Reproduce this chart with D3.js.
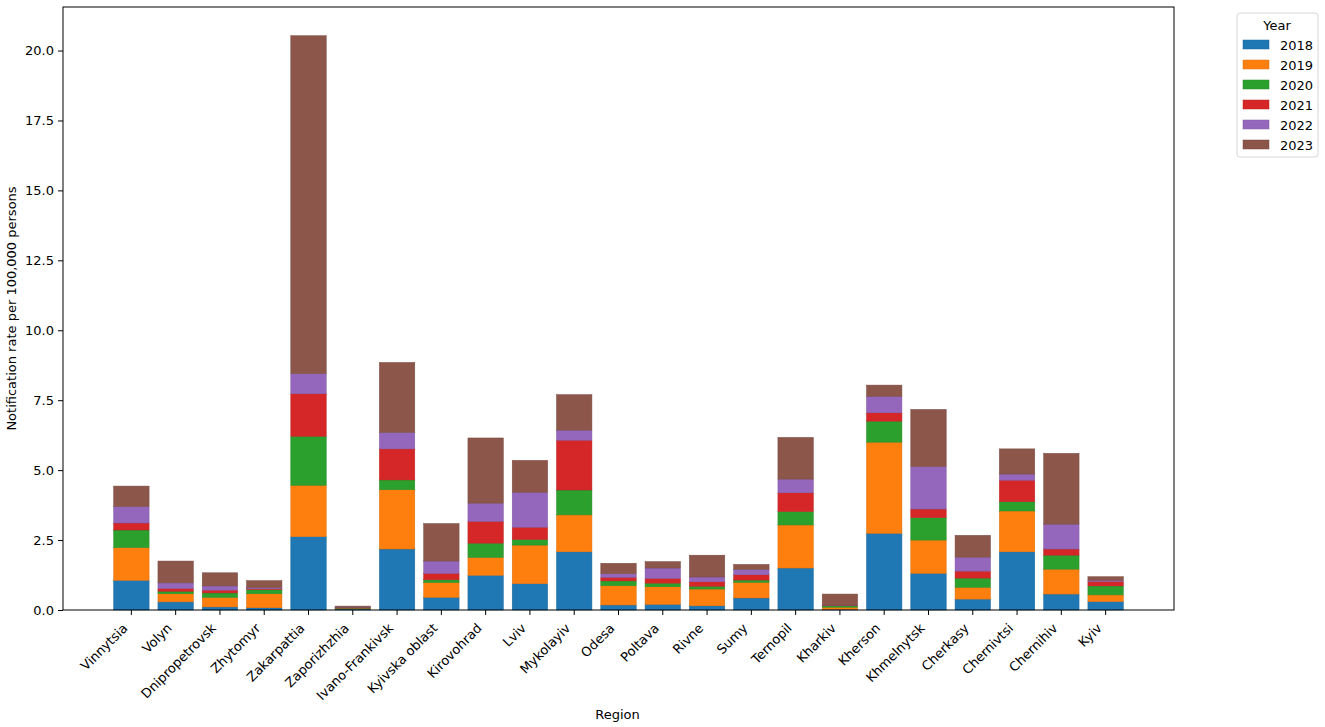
<!DOCTYPE html>
<html>
<head>
<meta charset="utf-8">
<script src="https://cdn.jsdelivr.net/npm/d3@7"></script>
<style>
  body { margin: 0; background: #fff; }
  svg { font-family: "DejaVu Sans", sans-serif; }
</style>
</head>
<body>
<svg width="1325" height="727"></svg>
<script>
const regions = ["Vinnytsia", "Volyn", "Dnipropetrovsk", "Zhytomyr", "Zakarpattia", "Zaporizhzhia",
  "Ivano-Frankivsk", "Kyivska oblast", "Kirovohrad", "Lviv", "Mykolayiv", "Odesa", "Poltava", "Rivne",
  "Sumy", "Ternopil", "Kharkiv", "Kherson", "Khmelnytsk", "Cherkasy", "Chernivtsi", "Chernihiv", "Kyiv"];
const years = ["2018", "2019", "2020", "2021", "2022", "2023"];
const colors = ["#1f77b4", "#ff7f0e", "#2ca02c", "#d62728", "#9467bd", "#8c564b"];

// notification rate per region, one array per year (same order as regions)
const rate2018 = [1.06, 0.29, 0.11, 0.08, 2.62, 0.04, 2.18, 0.45, 1.24, 0.94, 2.08, 0.18, 0.20, 0.15, 0.43, 1.50, 0.02, 2.74, 1.31, 0.39, 2.08, 0.57, 0.30];
const rate2019 = [1.17, 0.29, 0.34, 0.50, 1.84, 0.02, 2.12, 0.53, 0.64, 1.38, 1.32, 0.69, 0.63, 0.60, 0.56, 1.54, 0.08, 3.26, 1.19, 0.42, 1.46, 0.89, 0.24];
const rate2020 = [0.63, 0.09, 0.16, 0.15, 1.75, 0.01, 0.35, 0.10, 0.51, 0.20, 0.89, 0.17, 0.13, 0.10, 0.08, 0.48, 0.05, 0.75, 0.80, 0.33, 0.33, 0.50, 0.32];
const rate2021 = [0.25, 0.10, 0.10, 0.03, 1.52, 0.01, 1.11, 0.23, 0.78, 0.44, 1.78, 0.13, 0.17, 0.16, 0.19, 0.67, 0.01, 0.30, 0.31, 0.25, 0.77, 0.22, 0.16];
const rate2022 = [0.59, 0.20, 0.15, 0.04, 0.72, 0.01, 0.59, 0.44, 0.65, 1.25, 0.36, 0.13, 0.37, 0.17, 0.19, 0.49, 0.01, 0.59, 1.52, 0.50, 0.22, 0.89, 0.04];
const rate2023 = [0.73, 0.78, 0.47, 0.25, 12.08, 0.05, 2.50, 1.34, 2.33, 1.14, 1.27, 0.37, 0.23, 0.78, 0.18, 1.49, 0.40, 0.40, 2.04, 0.78, 0.90, 2.53, 0.13];
const yTicks = [0, 2.5, 5, 7.5, 10, 12.5, 15, 17.5, 20];

const series = [rate2018, rate2019, rate2020, rate2021, rate2022, rate2023];
const table = regions.map((r, i) => {
  const row = { region: r };
  years.forEach((y, j) => row[y] = series[j][i]);
  return row;
});

const svg = d3.select("svg");
const margin = { left: 63, right: 151, top: 7, bottom: 117 };
const width = 1325 - margin.left - margin.right;
const height = 727 - margin.top - margin.bottom;
const g = svg.append("g").attr("transform", `translate(${margin.left},${margin.top})`);

const stacked = d3.stack().keys(years)(table);
const maxTotal = d3.max(stacked[stacked.length - 1], d => d[1]);

const x = d3.scaleBand().domain(regions).range([0, width]).paddingInner(0.2).paddingOuter(1.144);
const y = d3.scaleLinear().domain([0, maxTotal * 1.05]).range([height, 0]);

// bars
g.selectAll(".layer")
  .data(stacked)
  .enter().append("g")
  .attr("class", "layer")
  .attr("fill", (d, i) => colors[i])
  .attr("stroke", (d, i) => d3.color(colors[i]).darker(0.4))
  .attr("stroke-width", 0.5)
  .selectAll("rect")
  .data(d => d)
  .enter().append("rect")
  .attr("x", d => x(d.data.region))
  .attr("width", x.bandwidth())
  .attr("y", d => y(d[1]))
  .attr("height", d => y(d[0]) - y(d[1]));

// axes
const yAxis = g.append("g")
  .call(d3.axisLeft(y).tickValues(yTicks).tickFormat(d3.format(".1f")).tickSize(5).tickPadding(4));
const xAxis = g.append("g")
  .attr("transform", `translate(0,${height})`)
  .call(d3.axisBottom(x).tickSize(5).tickPadding(4));

[xAxis, yAxis].forEach(a => {
  a.select(".domain").remove();
  a.selectAll("line").attr("stroke", "#000").attr("stroke-width", 1);
  a.selectAll("text").attr("font-size", 13).attr("fill", "#000")
    .attr("font-family", "DejaVu Sans, sans-serif");
});

xAxis.selectAll("text")
  .attr("text-anchor", "end")
  .attr("dy", 0)
  .attr("y", 0)
  .attr("transform", "translate(-3,19) rotate(-45)");

// frame
g.append("rect")
  .attr("width", width).attr("height", height)
  .attr("fill", "none").attr("stroke", "#000").attr("stroke-width", 1);

// axis titles
svg.append("text")
  .attr("x", margin.left + width / 2 - 1)
  .attr("y", 719)
  .attr("text-anchor", "middle")
  .attr("font-size", 13)
  .text("Region");

svg.append("text")
  .attr("transform", `translate(16,${margin.top + height / 2}) rotate(-90)`)
  .attr("text-anchor", "middle")
  .attr("font-size", 13)
  .text("Notification rate per 100,000 persons");

// legend
const lg = svg.append("g").attr("transform", "translate(1237,13)");
lg.append("rect")
  .attr("width", 81).attr("height", 144).attr("rx", 3)
  .attr("fill", "#fff").attr("stroke", "#d6d6d6");
lg.append("text")
  .attr("x", 40).attr("y", 17)
  .attr("text-anchor", "middle").attr("font-size", 13)
  .text("Year");
const item = lg.selectAll(".item")
  .data(years)
  .enter().append("g")
  .attr("class", "item")
  .attr("transform", (d, i) => `translate(6,${27 + i * 20})`);
item.append("rect")
  .attr("width", 26).attr("height", 9)
  .attr("fill", (d, i) => colors[i])
  .attr("stroke", (d, i) => d3.color(colors[i]).darker(0.4))
  .attr("stroke-width", 0.5);
item.append("text")
  .attr("x", 37).attr("y", 9.5)
  .attr("font-size", 13)
  .text(d => d);
</script>
</body>
</html>
